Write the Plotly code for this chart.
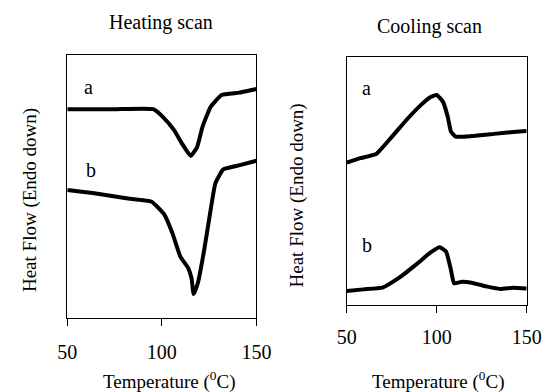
import plotly.graph_objects as go

# Heating scan
heat_a_T = [50, 75, 95.5, 100.5, 106.4, 110.6, 115.3, 118.7, 121.5, 125.8, 131.6, 140.9, 149.3, 150]
heat_a_y = [79.4, 79.4, 79.4, 76.5, 71.5, 66.4, 61.6, 65.1, 72.7, 80.3, 84.8, 85.7, 87.0, 87.1]
heat_b_T = [50, 64.3, 81.2, 94.6, 101.4, 105.6, 109.8, 114.0, 115.7, 116.8, 119.0, 122.4, 125.8, 128.3, 132.5, 141.8, 150]
heat_b_y = [48.7, 47.4, 45.5, 44.2, 39.2, 32.2, 23.3, 18.9, 15.1, 9.1, 13.2, 25.9, 41.1, 51.2, 56.5, 58.2, 59.8]

# Cooling scan
cool_a_T = [50, 57.4, 66.3, 75.1, 84.0, 91.1, 96.4, 99.9, 103.4, 106.1, 107.9, 110.5, 119.4, 131.8, 144.2, 150]
cool_a_y = [57.4, 59.2, 60.9, 67.9, 75.3, 80.6, 83.8, 84.7, 82.0, 75.9, 69.9, 67.9, 68.1, 69.0, 69.9, 70.2]
cool_b_T = [50, 59.2, 69.8, 78.7, 89.3, 96.4, 101.7, 105.2, 107.9, 109.6, 114.0, 119.4, 128.2, 135.3, 142.4, 150]
cool_b_y = [5.6, 6.3, 7.0, 10.8, 16.8, 21.1, 23.3, 21.5, 14.1, 8.75, 9.4, 9.0, 7.4, 6.5, 7.0, 6.7]

x_ticks = [50, 100, 150]
panel_titles = ["Heating scan", "Cooling scan"]
x_title = "Temperature (<sup>0</sup>C)"
y_title = "Heat Flow (Endo down)"

FONT = "Liberation Serif, DejaVu Serif, serif"
W, H = 556, 392

fig = go.Figure()
line = dict(color="black", width=4, shape="spline", smoothing=0.4)
fig.add_trace(go.Scatter(x=heat_a_T, y=heat_a_y, mode="lines", line=line, xaxis="x", yaxis="y"))
fig.add_trace(go.Scatter(x=heat_b_T, y=heat_b_y, mode="lines", line=line, xaxis="x", yaxis="y"))
fig.add_trace(go.Scatter(x=cool_a_T, y=cool_a_y, mode="lines", line=line, xaxis="x2", yaxis="y2"))
fig.add_trace(go.Scatter(x=cool_b_T, y=cool_b_y, mode="lines", line=line, xaxis="x2", yaxis="y2"))

def xax(domain, anchor, standoff):
    return dict(domain=domain, anchor=anchor, range=[50, 150], tickvals=x_ticks,
                showline=True, mirror=True, linecolor="black", linewidth=1,
                ticks="outside", ticklen=7, tickcolor="black", tickwidth=1,
                showgrid=False, zeroline=False, ticklabelstandoff=standoff,
                tickfont=dict(family=FONT, size=20, color="black"))

def yax(domain, anchor):
    return dict(domain=domain, anchor=anchor, range=[0, 100],
                showline=True, mirror=True, linecolor="black", linewidth=1,
                showticklabels=False, ticks="", showgrid=False, zeroline=False)

fig.update_layout(
    width=W, height=H, margin=dict(l=0, r=0, t=0, b=0),
    font=dict(family=FONT, size=20, color="black"),
    paper_bgcolor="white", plot_bgcolor="white", showlegend=False,
    xaxis=xax([60 / W, 258 / W], "y", 9),
    yaxis=yax([1 - 318 / H, 1 - 55 / H], "x"),
    xaxis2=xax([352.7 / W, 541 / W], "y2", 7),
    yaxis2=yax([1 - 305 / H, 1 - 57 / H], "x2"),
)

ann = []
def txt(x, y, s, size=20, angle=0):
    ann.append(dict(x=x / W, y=1 - y / H, xref="paper", yref="paper", text=s, showarrow=False,
                    font=dict(family=FONT, size=size, color="black"), textangle=angle,
                    xanchor="center", yanchor="middle"))

txt(158, 23, panel_titles[0])
txt(439, 27, panel_titles[1])
txt(166, 380, x_title, size=19)
txt(448, 380, x_title, size=19)
txt(21, 200, y_title, size=19, angle=-90)
txt(301, 195, y_title, size=19, angle=-90)
txt(82, 87, "a")
txt(85, 170, "b")
txt(373, 88, "a")
txt(374, 245, "b")
fig.update_layout(annotations=ann)

fig.write_html("out.html")
